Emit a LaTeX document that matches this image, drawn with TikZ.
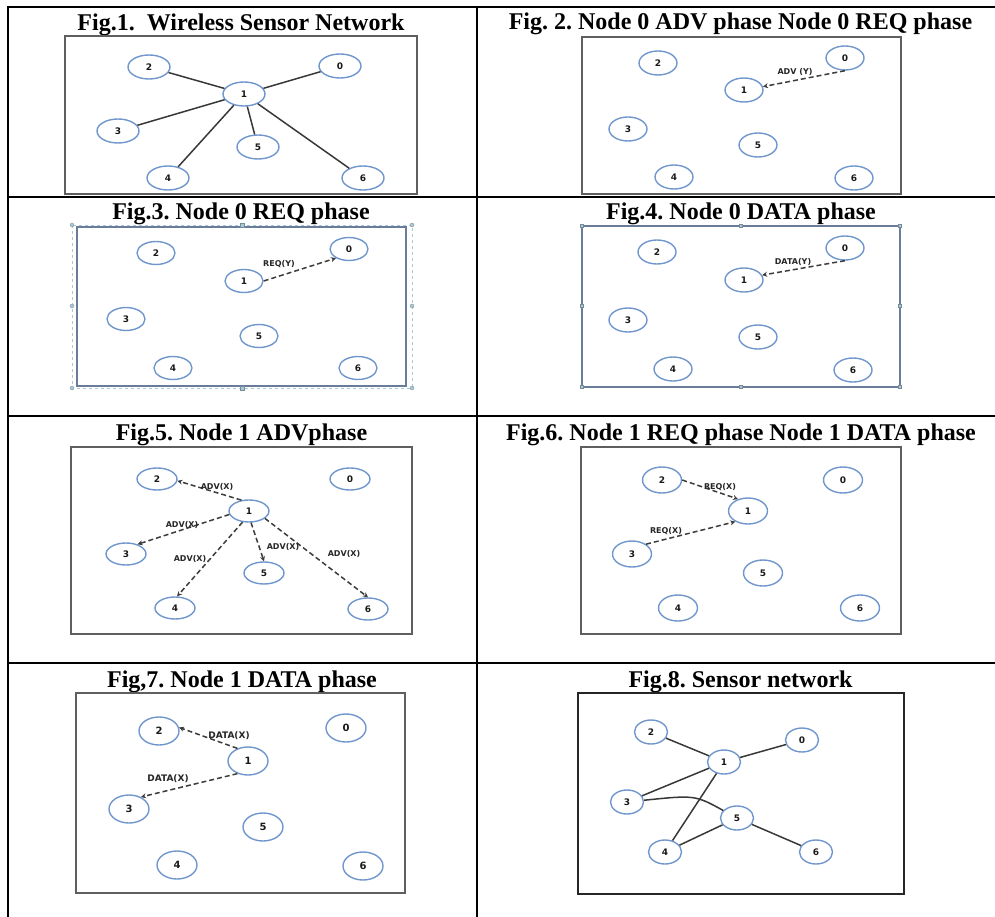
\documentclass[tikz,border=0pt]{standalone}
\usepackage{fontspec}
\setmainfont{Liberation Serif}
\newfontfamily\nodefont{DejaVu Sans}
\usetikzlibrary{shapes.geometric,arrows.meta}
\definecolor{ringblue}{RGB}{112,150,206}
\definecolor{framegray}{RGB}{95,95,95}
\definecolor{selblue}{RGB}{105,125,155}
\definecolor{handleblue}{RGB}{170,200,215}
\definecolor{msggray}{RGB}{60,60,60}
\frenchspacing
\begin{document}
\begin{tikzpicture}[x=1pt,y=-1pt,
  sensor/.style={ellipse, draw=ringblue, line width=1.4pt, inner sep=0pt,
    minimum width=40, minimum height=24, text=black!90,
    font=\nodefont\bfseries\fontsize{9}{9}\selectfont},
  link/.style={draw=black!78, line width=1.5pt},
  msg/.style={draw=msggray, line width=1.5pt, dash pattern=on 5pt off 3pt,
    -{Stealth[length=5pt,width=5pt]}},
  msglabel/.style={inner sep=0pt, text=black!85,
    font=\nodefont\bfseries\fontsize{8}{8}\selectfont},
  figtitle/.style={anchor=base, inner sep=0pt,
    font=\bfseries\fontsize{24}{26}\selectfont},
  tableline/.style={line width=2.5pt, black},
  boxline/.style={draw=framegray, line width=1.6pt},
  handle/.style={fill=handleblue, draw=handleblue!70!black, line width=0.3pt}]
  \useasboundingbox (0,0) rectangle (995,917);

  % Table rules
  \draw[tableline] (995,7) -- (8,7) -- (8,917);
  \draw[tableline] (477,7) -- (477,917);
  \draw[tableline] (8,197) -- (995,197);
  \draw[tableline] (8,416) -- (995,416);
  \draw[tableline] (8,663) -- (995,663);

  % Titles
  \node[figtitle] (t1) at (241,30.5) {Fig.1.\ \ Wireless Sensor Network};
  \node[figtitle] (t2) at (740.5,30) {Fig. 2. Node 0 ADV phase Node 0 REQ phase};
  \node[figtitle] (t3) at (241,220) {Fig.3. Node 0 REQ phase};
  \node[figtitle] (t4) at (741,220) {Fig.4. Node 0 DATA phase};
  \node[figtitle] (t5) at (241.5,440) {Fig.5. Node 1 ADVphase};
  \node[figtitle] (t6) at (741,440) {Fig.6. Node 1 REQ phase Node 1 DATA phase};
  \node[figtitle] (t7) at (242,687) {Fig,7. Node 1 DATA phase};
  \node[figtitle] (t8) at (740.5,687) {Fig.8. Sensor network};

  % Fig.1
  \draw[boxline] (65,36) rectangle (417,194);
  \begin{scope}[sensor/.append style={minimum width=42, minimum height=24}]
    \foreach \n/\x/\y in {0/340/66, 1/244/94, 2/149/67, 3/118/131,
                          4/168/178, 5/258/147, 6/363/178}
      \node[sensor] (wsn\n) at (\x,\y) {\n};
  \end{scope}
  \foreach \m in {0,2,3,4,5,6}
    \draw[link] (wsn1) -- (wsn\m);

  % Fig.2
  \draw[boxline] (582,37) rectangle (901,194);
  \begin{scope}[sensor/.append style={minimum width=38, minimum height=24}]
    \foreach \n/\x/\y in {0/845/58, 1/744/90, 2/658/63, 3/628/129,
                          4/674/177, 5/758/145, 6/854/178}
      \node[sensor] (advy\n) at (\x,\y) {\n};
  \end{scope}
  \draw[msg] (advy0.south) -- (advy1.10);
  \node[msglabel] (advylab) at (795,72) {ADV (Y)};

  % Fig.3
  \draw[handleblue, line width=0.6pt, dashed] (72,225) rectangle (412,388);
  \draw[selblue, line width=1.6pt] (77,227) rectangle (406,386);
  \foreach \x/\y in {72/225, 412/225, 72/388, 412/388, 72/306, 412/306}
    \draw[handle] (\x,\y) circle (2);
  \foreach \x/\y in {242/225, 242/388}
    \draw[handle] (\x-2,\y-2) rectangle (\x+2,\y+2);
  \begin{scope}[sensor/.append style={minimum width=38, minimum height=23}]
    \foreach \n/\x/\y in {0/349/249, 1/244/281, 2/156/253, 3/126/319,
                          4/173/368, 5/259/336, 6/358/368}
      \node[sensor] (reqy\n) at (\x,\y) {\n};
  \end{scope}
  \draw[msg] (reqy1.east) -- (reqy0.215);
  \node[msglabel] (reqylab) at (279,264.5) {REQ(Y)};

  % Fig.4
  \draw[selblue, line width=1.6pt] (582,226) rectangle (900,387);
  \foreach \x/\y in {582/226, 900/226, 582/387, 900/387, 741/226, 741/387,
                     582/306, 900/306}
    \draw[handle] (\x-1.5,\y-1.5) rectangle (\x+1.5,\y+1.5);
  \begin{scope}[sensor/.append style={minimum width=38, minimum height=24}]
    \foreach \n/\x/\y in {0/845/248, 1/744/280, 2/657/252, 3/628/320,
                          4/673/369, 5/758/337, 6/853/370}
      \node[sensor] (daty\n) at (\x,\y) {\n};
  \end{scope}
  \draw[msg] (daty0.south) -- (daty1.15);
  \node[msglabel] (datylab) at (793,262) {DATA(Y)};

  % Fig.5
  \draw[boxline] (71,447) rectangle (412,634);
  \begin{scope}[sensor/.append style={minimum width=40, minimum height=22}]
    \foreach \n/\x/\y in {0/350/479, 1/249/511, 2/157/479, 3/126/554,
                          4/175/608, 5/264/573, 6/368/609}
      \node[sensor] (advx\n) at (\x,\y) {\n};
  \end{scope}
  \draw[msg] (advx1.125) -- (advx2.-5);
  \draw[msg] (advx1.190) -- (advx3.40);
  \draw[msg] (advx1.240) -- (advx4.80);
  \draw[msg] (advx1.280) -- (advx5.north);
  \draw[msg] (advx1.-25) -- (advx6.north);
  \node[msglabel] (advxlab2) at (217,487) {ADV(X)};
  \node[msglabel] (advxlab3) at (182,525) {ADV(X)};
  \node[msglabel] (advxlab4) at (190,559) {ADV(X)};
  \node[msglabel] (advxlab5) at (283,547) {ADV(X)};
  \node[msglabel] (advxlab6) at (344,554) {ADV(X)};

  % Fig.6
  \draw[boxline] (581,447) rectangle (901,634);
  \begin{scope}[sensor/.append style={minimum width=39, minimum height=26}]
    \foreach \n/\x/\y in {0/843/480, 1/748/511, 2/662/480, 3/632/554,
                          4/678/608, 5/763/573, 6/860/608}
      \node[sensor] (reqx\n) at (\x,\y) {\n};
  \end{scope}
  \draw[msg] (reqx2.east) -- (reqx1.130);
  \draw[msg] (reqx3.35) -- (reqx1.220);
  \node[msglabel] (reqxlab2) at (720,487) {REQ(X)};
  \node[msglabel] (reqxlab3) at (666,531) {REQ(X)};

  % Fig.7
  \draw[boxline] (76,693) rectangle (405,893);
  \begin{scope}[sensor/.append style={minimum width=40, minimum height=28,
      font=\nodefont\bfseries\fontsize{10}{10}\selectfont}]
    \foreach \n/\x/\y in {0/346/728, 1/248/761, 2/159/731, 3/129/809,
                          4/177/865, 5/263/827, 6/363/866}
      \node[sensor] (datx\n) at (\x,\y) {\n};
  \end{scope}
  \draw[msg] (datx1.130) -- (datx2.10);
  \draw[msg] (datx1.230) -- (datx3.45);
  \node[msglabel, font=\nodefont\bfseries\fontsize{9}{9}\selectfont]
    (datxlab2) at (229,736) {DATA(X)};
  \node[msglabel, font=\nodefont\bfseries\fontsize{9}{9}\selectfont]
    (datxlab3) at (168,779) {DATA(X)};

  % Fig.8
  \draw[black!85, line width=2.2pt] (578,693) rectangle (904,894);
  \begin{scope}[sensor/.append style={minimum width=33, minimum height=24}]
    \foreach \n/\x/\y in {0/802/740, 1/724/762, 2/651/732, 3/627/802,
                          4/665/852, 5/737/818, 6/816/852}
      \node[sensor] (net\n) at (\x,\y) {\n};
  \end{scope}
  \draw[link] (net2) -- (net1);
  \draw[link] (net1) -- (net0);
  \draw[link] (net1) -- (net3);
  \draw[link] (net1) -- (net4);
  \draw[link] (net4) -- (net5);
  \draw[link] (net5) -- (net6);
  \draw[link] (net3) .. controls (695,795) .. (net5);
\end{tikzpicture}
\end{document}
